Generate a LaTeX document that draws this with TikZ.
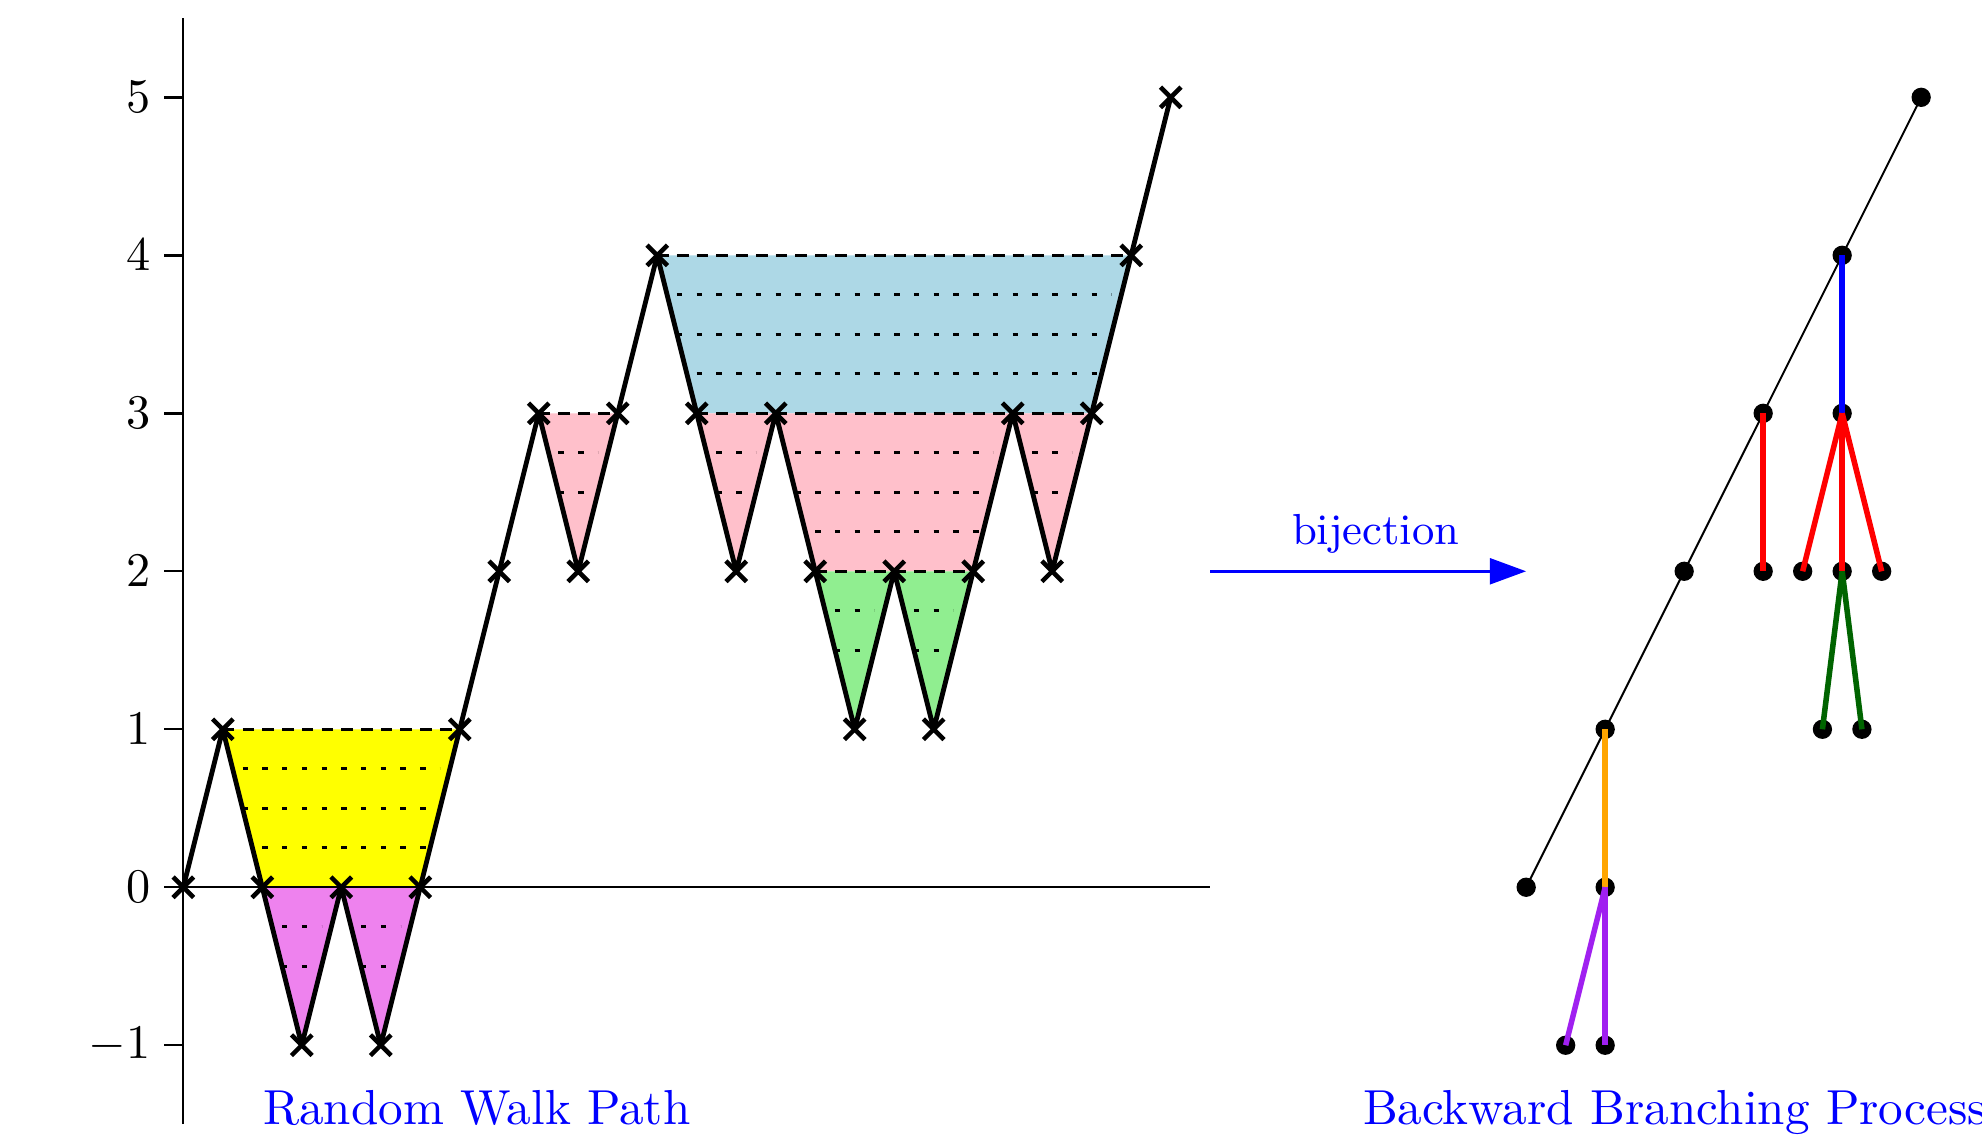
\documentclass[tikz,border=0pt]{standalone}
\usepackage{tikz}
\usetikzlibrary{arrows.meta,shapes.misc}
\definecolor{regyellow}{HTML}{FFFF00}
\definecolor{regviolet}{HTML}{EE82EE}
\definecolor{regpink}{HTML}{FFC0CB}
\definecolor{regblue}{HTML}{ADD8E6}
\definecolor{reggreen}{HTML}{90EE90}
\definecolor{brorange}{HTML}{FFA500}
\definecolor{brgreen}{HTML}{006400}
\definecolor{brpurple}{HTML}{A020F0}
\tikzset{
  walkpt/.style = {draw, cross out, line width=0.95pt, minimum size=3.3pt, inner sep=0pt},
  walk/.style   = {line width=1pt, line join=round},
  axis/.style   = {line width=0.5pt},
  lvl/.style    = {line width=0.6pt, dash pattern=on 2.4pt off 1.69pt},
  sub/.style    = {line width=0.6pt, dash pattern=on 1.1pt off 2.99pt},
  dot/.style    = {circle, fill, inner sep=0pt, minimum size=4pt},
  branch/.style = {line width=1.15pt},
  caption/.style = {blue, anchor=base, scale=1.018},
  bij/.style    = {blue, line width=0.7pt, -{Triangle[length=7.5pt,width=5.3pt]}},
}

\begin{document}
\begin{tikzpicture}[x=0.2875cm,y=1.15cm]
\useasboundingbox (-4.64,-1.592) rectangle (45.54,5.616);

\foreach \h [count=\i from 0] in {0,1,0,-1,0,-1,0,1,2,3,2,3,4,3,2,3,2,1,2,1,2,3,2,3,4,5}
  \coordinate (w\i) at (\i,\h);

\begin{scope}
  \clip (w1) -- (w2) -- (w6) -- (w7) -- cycle;
  \fill[regyellow] (0,-1.5) rectangle (26,5.5);
  \foreach \y in {0.25,0.5,0.75} \draw[sub] (1.5,\y) -- (6.5,\y);
\end{scope}
\begin{scope}
  \clip (w2) -- (w3) -- (w4) -- (w5) -- (w6) -- cycle;
  \fill[regviolet] (0,-1.5) rectangle (26,5.5);
  \foreach \y in {-0.25,-0.5} {
    \draw[sub] (2.5,\y) -- (3.5,\y);
    \draw[sub] (4.5,\y) -- (5.5,\y);
  }
\end{scope}
\begin{scope}
  \clip (w9) -- (w10) -- (w11) -- cycle;
  \fill[regpink] (0,-1.5) rectangle (26,5.5);
  \foreach \y in {2.5,2.75} \draw[sub] (9.5,\y) -- (10.5,\y);
\end{scope}
\begin{scope}
  \clip (w12) -- (w13) -- (w23) -- (w24) -- cycle;
  \fill[regblue] (0,-1.5) rectangle (26,5.5);
  \foreach \y in {3.25,3.5,3.75} \draw[sub] (12.5,\y) -- (23.5,\y);
\end{scope}
\begin{scope}
  \clip (w13) -- (w14) -- (w15) -- (w16) -- (w20) -- (w21) -- (w22) -- (w23) -- cycle;
  \fill[regpink] (0,-1.5) rectangle (26,5.5);
  \foreach \y in {2.5,2.75} {
    \draw[sub] (13.5,\y) -- (14.5,\y);
    \draw[sub] (21.5,\y) -- (22.5,\y);
  }
  \foreach \y in {2.25,2.5,2.75} \draw[sub] (15.5,\y) -- (20.5,\y);
\end{scope}
\begin{scope}
  \clip (w16) -- (w17) -- (w18) -- (w19) -- (w20) -- cycle;
  \fill[reggreen] (0,-1.5) rectangle (26,5.5);
  \foreach \y in {1.5,1.75} {
    \draw[sub] (16.5,\y) -- (17.5,\y);
    \draw[sub] (18.5,\y) -- (19.5,\y);
  }
\end{scope}

\draw[lvl] (w1) -- (w7);
\draw[lvl] (w9) -- (w11);
\draw[lvl] (w12) -- (w24);
\draw[lvl] (w13) -- (w23);
\draw[lvl] (w16) -- (w20);

\coordinate (ybot) at (0,-1.5);
\coordinate (ytop) at (0,5.5);
\coordinate (xend) at (26,0);
\draw[axis] (ybot) -- (ytop);
\draw[axis] (w0) -- (xend);
\foreach \y in {-1,...,5}
  \draw[axis] (0,\y) -- (-0.5,\y) node[left, inner sep=2.5pt] {$\y$};

\draw[walk] (w0) \foreach \i in {1,...,25} {-- (w\i)};
\foreach \i in {0,...,25}
  \node[walkpt] (m\i) at (w\i) {};

\node[caption] (rwlabel) at (7.43,-1.5) {Random Walk Path};

\coordinate (bjs) at (26,2);
\coordinate (bje) at (34,2);
\draw[bij] (bjs) -- node[pos=0.524, above, font=\small] {bijection} (bje);

\foreach \k in {0,...,5}
  \node[dot] (b\k) at ({34+2*\k},\k) {};
\node[dot] (u3)  at (42,3) {};
\node[dot] (v2d) at (40,2) {};
\node[dot] (v2a) at (41,2) {};
\node[dot] (v2b) at (42,2) {};
\node[dot] (v2c) at (43,2) {};
\node[dot] (g1a) at (41.5,1) {};
\node[dot] (g1b) at (42.5,1) {};
\node[dot] (o0)  at (36,0) {};
\node[dot] (p1a) at (35,-1) {};
\node[dot] (p1b) at (36,-1) {};

\draw (b0.center) -- (b1.center) -- (b2.center) -- (b3.center) -- (b4.center) -- (b5.center);
\draw[branch, blue] (b4.center) -- (u3.center);
\draw[branch, red] (b3.center) -- (v2d.center);
\foreach \c in {v2a,v2b,v2c}
  \draw[branch, red] (u3.center) -- (\c.center);
\foreach \c in {g1a,g1b}
  \draw[branch, brgreen] (v2b.center) -- (\c.center);
\draw[branch, brorange] (b1.center) -- (o0.center);
\foreach \c in {p1a,p1b}
  \draw[branch, brpurple] (o0.center) -- (\c.center);

\node[caption] (bplabel) at (37.77,-1.5) {Backward Branching Process};
\end{tikzpicture}
\end{document}
